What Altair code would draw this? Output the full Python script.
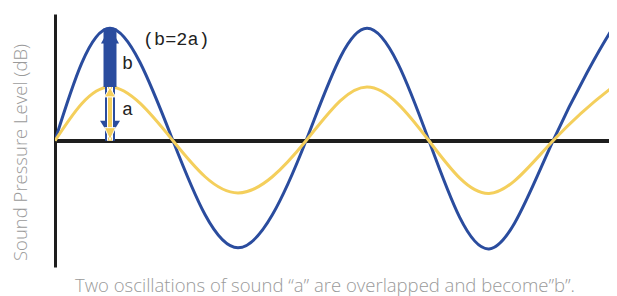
import altair as alt
import pandas as pd

# wave key points (time units, level units)
t_points = [0.0, 0.55, 1.18, 1.83, 2.51, 3.12, 3.74, 4.34, 4.98, 5.57, 5.62]
b_values = [0.0, 2.05, 0.0, -1.95, 0.0, 2.05, 0.0, -1.97, 0.0, 2.03, 2.02]
a_values = [0.0, 0.98, 0.0, -0.95, 0.0, 0.98, 0.0, -0.96, 0.0, 0.97, 0.97]

arrow_t = [0.55]
b_top = [2.05]
a_top = [0.98]

label_text = ["(b=2a)", "b", "a"]
label_t = [0.88, 0.67, 0.67]
label_v = [1.85, 1.42, 0.58]

y_title = "Sound Pressure Level (dB)"
caption = "Two oscillations of sound \u201ca\u201d are overlapped and become\u201db\u201d."

BLUE = "#2a4c9e"
YELLOW = "#f4cf5c"
FONT = "Open Sans"

waves = pd.DataFrame({"t": t_points, "b": b_values, "a": a_values})
arrow = pd.DataFrame({"t": arrow_t, "btop": b_top, "atop": a_top, "zero": [0.0]})
labels = pd.DataFrame({"text": label_text, "t": label_t, "v": label_v})

xs = alt.Scale(domain=[0, 5.54], nice=False, zero=False)
ys = alt.Scale(domain=[-2.3, 2.31], nice=False, zero=False)

yaxis = alt.Axis(
    domain=True, domainColor="#1e1e1e", domainWidth=3, ticks=False, labels=False,
    grid=False, title=y_title, titleAngle=270, titleX=-35, titleY=138,
    titleAlign="center", titleBaseline="middle", titleFontSize=18.5,
    titleFontWeight=300, titleColor="#9a9a9a", titleFont=FONT,
)


def X(f):
    return alt.X(f, type="quantitative", scale=xs, axis=None)


def Y(f):
    return alt.Y(f, type="quantitative", scale=ys, axis=yaxis)


zero = alt.Chart(waves).mark_rule(color="#1e1e1e", strokeWidth=3.5).encode(
    y=Y("z")
).transform_calculate(z="0")

blue_line = alt.Chart(waves).mark_line(
    color=BLUE, strokeWidth=3, interpolate="natural", clip=True
).encode(x=X("t"), y=Y("b"))
yellow_line = alt.Chart(waves).mark_line(
    color=YELLOW, strokeWidth=3, interpolate="natural", clip=True
).encode(x=X("t"), y=Y("a"))

base = alt.Chart(arrow)
blue_thick = base.mark_rule(color=BLUE, strokeWidth=13).encode(
    x=X("t"), y=Y("atop"), y2="btop:Q"
)
blue_thin = base.mark_rule(color=BLUE, strokeWidth=10).encode(
    x=X("t"), y=Y("zero"), y2="atop:Q"
)
blue_up = base.mark_point(filled=True, opacity=1, color=BLUE,
                          shape="M0,0L-1,1.8L1,1.8Z", size=324).encode(
    x=X("t"), y=Y("btop"), yOffset=alt.value(-1)
)
blue_down = base.mark_point(filled=True, opacity=1, color=BLUE,
                            shape="M0,0L-1,-1.6L1,-1.6Z", size=400).encode(
    x=X("t"), y=Y("zero"), yOffset=alt.value(-4)
)
yellow_white = base.mark_rule(color="white", strokeWidth=6).encode(
    x=X("t"), y=Y("zero"), y2="atop:Q"
)
yellow_shaft = base.mark_rule(color=YELLOW, strokeWidth=4).encode(
    x=X("t"), y=Y("zero"), y2="atop:Q"
)
yellow_up = base.mark_point(filled=True, opacity=1, color=YELLOW, stroke="white", strokeWidth=1,
                            shape="M0,0L-1,1.8L1,1.8Z", size=121).encode(
    x=X("t"), y=Y("atop")
)
yellow_down = base.mark_point(filled=True, opacity=1, color=YELLOW, stroke="white", strokeWidth=1,
                              shape="M0,0L-1,-2.2L1,-2.2Z", size=121).encode(
    x=X("t"), y=Y("zero"), yOffset=alt.value(-1)
)

texts = alt.Chart(labels).mark_text(
    align="left", baseline="middle", font="Liberation Mono", fontSize=18.5, color="#222222"
).encode(x=X("t"), y=Y("v"), text="text:N")

chart = alt.layer(
    zero, blue_line, yellow_line, blue_thick, blue_thin, blue_up, blue_down,
    yellow_white, yellow_shaft, yellow_up, yellow_down, texts,
).properties(
    width=554, height=253,
    padding={"left": 47, "top": 6, "right": 0, "bottom": 29},
    autosize=alt.AutoSizeParams(type="none"),
    title=alt.TitleParams(
        caption, orient="bottom", anchor="middle", offset=10, dx=-7,
        fontSize=18.5, fontWeight=300, color="#9a9a9a", font=FONT,
    ),
).configure_view(stroke=None)

chart.save("out.html", embed_options={"renderer": "svg", "actions": False})
